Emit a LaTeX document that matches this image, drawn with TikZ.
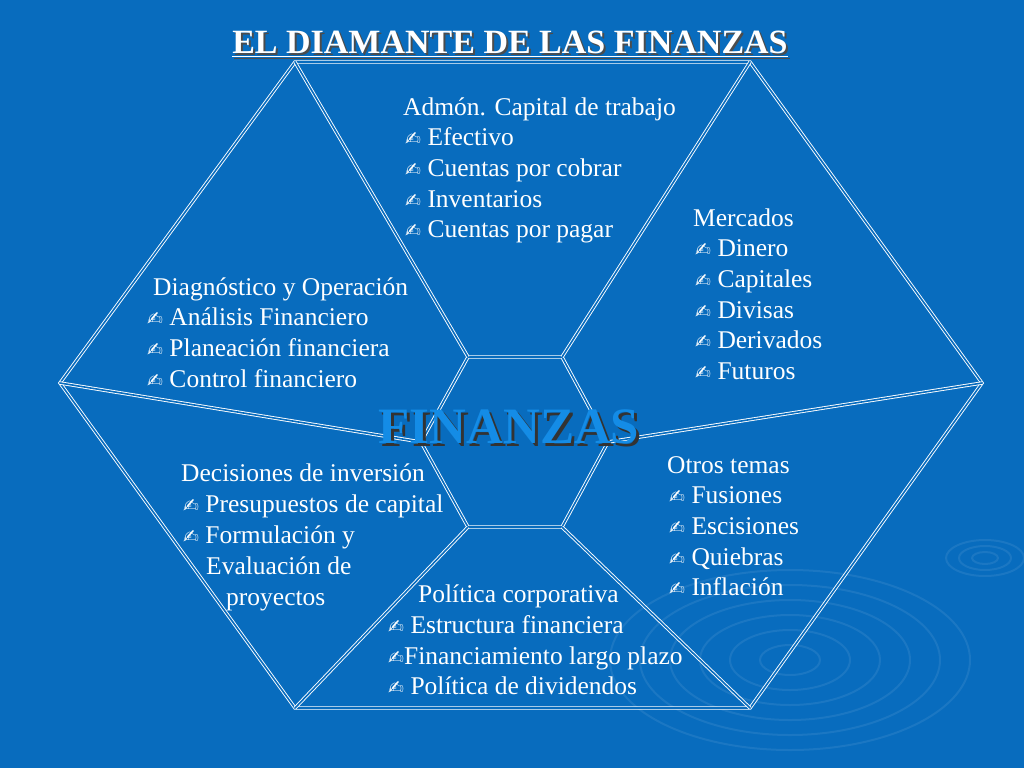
\documentclass[tikz,border=0pt]{standalone}
\usepackage{fontspec}
\setmainfont{Liberation Serif}
\newfontfamily\symf{DejaVu Sans}
\definecolor{bg}{RGB}{8,108,190}
\definecolor{fin}{RGB}{20,140,230}
\newcommand{\hand}{{\symf\fontsize{19}{22}\selectfont ✍}}
\begin{document}
\begin{tikzpicture}[x=1pt,y=-1pt,
  hexl/.style={draw=white,line width=0.9pt,double=bg,double distance=1.6pt},
  txt/.style={anchor=base west,inner sep=0pt,text=white,font=\fontsize{25.5}{29}\selectfont},
  rip/.style={draw=white,opacity=0.08,line width=2pt}]
\fill[bg] (0,0) rectangle (1024,768);
\useasboundingbox (0,0) rectangle (1024,768);
\foreach \r in {20,40,60,80,100,120}{\draw[rip] (790,660) ellipse ({1.5*\r} and {0.75*\r});}
\foreach \r in {10,20,30}{\draw[rip] (985,558) ellipse ({1.3*\r} and {0.6*\r});}
\coordinate (oL) at (60,383); \coordinate (oTL) at (295,62); \coordinate (oTR) at (750,62);
\coordinate (oR) at (982,383); \coordinate (oBR) at (750,708); \coordinate (oBL) at (295,708);
\coordinate (iL) at (421,442); \coordinate (iTL) at (468,357); \coordinate (iTR) at (562,357);
\coordinate (iR) at (608,442); \coordinate (iBR) at (562,527); \coordinate (iBL) at (468,527);
\draw[hexl] (oL)--(oTL)--(oTR)--(oR)--(oBR)--(oBL)--cycle;
\draw[hexl] (iL)--(iTL)--(iTR)--(iR)--(iBR)--(iBL)--cycle;
\draw[hexl] (oL)--(iL); \draw[hexl] (oTL)--(iTL); \draw[hexl] (oTR)--(iTR);
\draw[hexl] (oR)--(iR); \draw[hexl] (oBR)--(iBR); \draw[hexl] (oBL)--(iBL);
\node[anchor=base,inner sep=0pt,text=black!70,font=\fontsize{34}{38}\selectfont\bfseries] at (512,56) {\underline{EL DIAMANTE DE LAS FINANZAS}};
\node (title) [anchor=base,inner sep=0pt,text=white,font=\fontsize{34}{38}\selectfont\bfseries] at (510,54) {\underline{EL DIAMANTE DE LAS FINANZAS}};
\node[anchor=base,inner sep=0pt,text=black!80,font=\fontsize{51}{55}\selectfont\bfseries] at (512,446) {FINANZAS};
\node (fin) [anchor=base,inner sep=0pt,text=fin,font=\fontsize{51}{55}\selectfont\bfseries] at (509,443) {FINANZAS};
% top
\node (t0) [txt] at (403,115) {Admón. Capital de trabajo};
\foreach \s [count=\i] in {Efectivo,Cuentas por cobrar,Inventarios,Cuentas por pagar}
  \node (t\i) [txt] at (405,{115+30.7*\i}) {\hand\ \s};
% mercados
\node (m0) [txt] at (693,226) {Mercados};
\foreach \s [count=\i] in {Dinero,Capitales,Divisas,Derivados,Futuros}
  \node (m\i) [txt] at (695,{226+30.7*\i}) {\hand\ \s};
% diagnostico
\node (d0) [txt] at (153,295) {Diagnóstico y Operación};
\foreach \s [count=\i] in {Análisis Financiero,Planeación financiera,Control financiero}
  \node (d\i) [txt] at (147,{295+30.7*\i}) {\hand\ \s};
% decisiones
\node (e0) [txt] at (181,481) {Decisiones de inversión};
\node (e1) [txt] at (183,512) {\hand\ Presupuestos de capital};
\node (e2) [txt] at (183,543) {\hand\ Formulación y};
\node (e3) [txt] at (206,574) {Evaluación de};
\node (e4) [txt] at (226,605) {proyectos};
% otros
\node (o0) [txt] at (667,473) {Otros temas};
\foreach \s [count=\i] in {Fusiones,Escisiones,Quiebras,Inflación}
  \node (o\i) [txt] at (669,{473+30.7*\i}) {\hand\ \s};
% politica
\node (p0) [txt] at (418,602) {Política corporativa};
\node (p1) [txt] at (388,633) {\hand\ Estructura financiera};
\node (p2) [txt] at (388,664) {\hand Financiamiento largo plazo};
\node (p3) [txt] at (388,694) {\hand\ Política de dividendos};
\end{tikzpicture}
\end{document}
